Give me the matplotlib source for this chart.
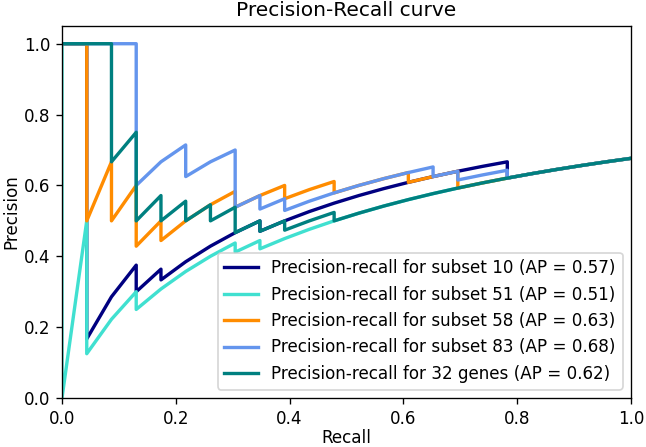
import numpy as np
import matplotlib
matplotlib.use("Agg")
import matplotlib.pyplot as plt

# Ranked labels (1 = positive, 0 = negative), highest score first
labels_subset_10 = [1, 0, 0, 0, 0, 0, 1, 1, 0, 0, 1, 0, 1, 1, 1, 1, 0,
                    1, 1, 1, 1, 1, 1, 1, 1, 1, 1, 0, 0, 1, 1, 1, 1, 1]
labels_subset_51 = [0, 1, 0, 0, 0, 0, 0, 0, 1, 1, 0, 0, 1, 1, 1, 1, 0,
                    1, 0, 1, 1, 1, 1, 1, 1, 1, 1, 1, 1, 1, 1, 1, 1, 1]
labels_subset_58 = [1, 0, 1, 0, 1, 0, 0, 1, 0, 1, 1, 1, 0, 1, 1, 0, 1,
                    1, 0, 1, 1, 1, 0, 1, 1, 0, 0, 1, 1, 1, 1, 1, 1, 1]
labels_subset_83 = [1, 1, 1, 0, 0, 1, 1, 0, 1, 1, 0, 0, 0, 1, 0, 1, 0,
                    1, 1, 1, 1, 1, 1, 0, 1, 0, 1, 1, 0, 1, 1, 1, 1, 1]
labels_32_genes = [1, 1, 0, 1, 0, 0, 1, 0, 1, 0, 1, 0, 1, 0, 0, 1, 0,
                   1, 0, 1, 1, 0, 1, 1, 1, 1, 1, 1, 1, 1, 1, 1, 1, 1]

series_names = ["subset 10", "subset 51", "subset 58", "subset 83", "32 genes"]
series_labels = [labels_subset_10, labels_subset_51, labels_subset_58,
                 labels_subset_83, labels_32_genes]
average_precision = [0.57, 0.51, 0.63, 0.68, 0.62]
colors = ["navy", "turquoise", "darkorange", "cornflowerblue", "teal"]


def pr_points(labels):
    y = np.asarray(labels)
    tp = np.cumsum(y)
    fp = np.cumsum(1 - y)
    precision = tp / (tp + fp)
    recall = tp / y.sum()
    return np.r_[0.0, recall], np.r_[1.0, precision]


DPI = 121
fig = plt.figure(figsize=(646 / DPI, 447 / DPI), dpi=DPI)
ax = fig.add_axes([62 / 646, 49 / 447, 569 / 646, 372 / 447])

for name, labels, ap, color in zip(series_names, series_labels,
                                   average_precision, colors):
    r, p = pr_points(labels)
    ax.plot(r, p, color=color, lw=2,
            label="Precision-recall for {0} (AP = {1:0.2f})".format(name, ap))

ax.set_xlim([0.0, 1.0])
ax.set_ylim([0.0, 1.05])
ax.set_xlabel("Recall", labelpad=1)
ax.set_ylabel("Precision", labelpad=2)
ax.set_title("Precision-Recall curve")
ax.legend(loc="lower right", fontsize=10)

fig.savefig("out.png", dpi=DPI)
